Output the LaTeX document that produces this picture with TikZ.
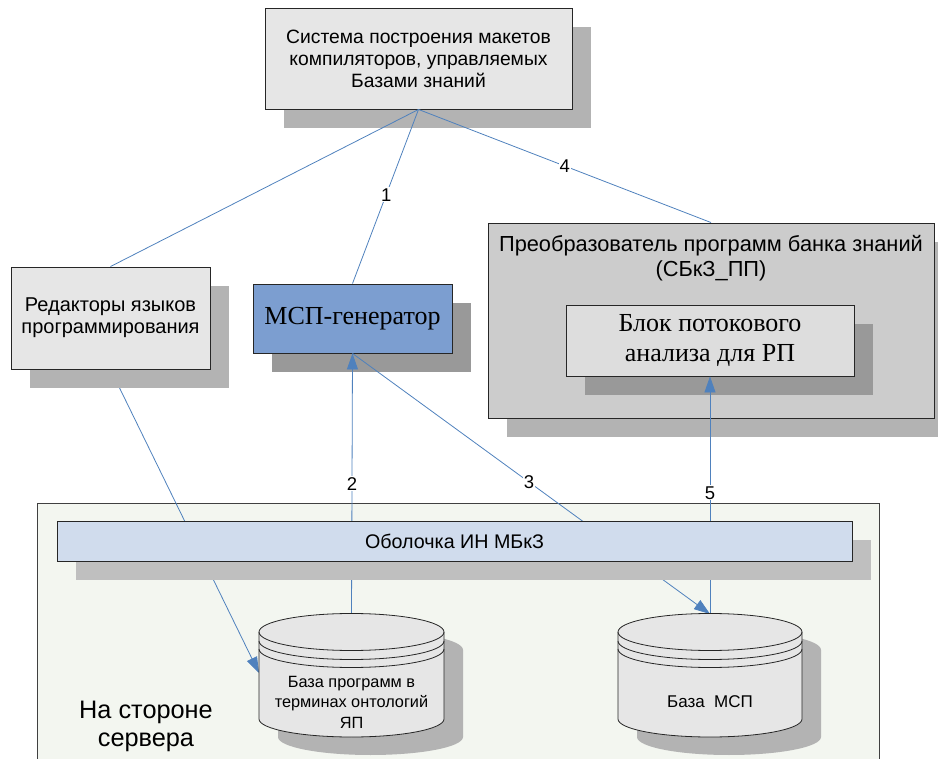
\documentclass[tikz,border=0pt]{standalone}
\usepackage{fontspec}
\setmainfont{Liberation Sans}
\newfontfamily\romanfont{Liberation Serif}
\usetikzlibrary{arrows.meta,shadows}

\definecolor{wire}{HTML}{4F81BD}
\definecolor{panel}{HTML}{E6E6E6}
\definecolor{panelshadow}{HTML}{B3B3B3}
\definecolor{genfill}{HTML}{7C9ED0}
\definecolor{darkshadow}{HTML}{999999}
\definecolor{convfill}{HTML}{CCCCCC}
\definecolor{innerfill}{HTML}{DDDDDD}
\definecolor{shellfill}{HTML}{D0DCED}
\definecolor{shellshadow}{HTML}{BFBFBF}
\definecolor{serverfill}{HTML}{F3F6F0}

\pgfdeclarelayer{back}
\pgfdeclarelayer{wires}
\pgfsetlayers{back,wires,main}

% database cylinder: #1 = centre x, #2 = half width
\newcommand\drawdb[2]{%
  \begin{scope}[shift={(#1,0)}]
    \fill[panelshadow] (-#2+19,650) -- (-#2+19,737)
      arc[start angle=180,end angle=360,x radius=#2pt,y radius=18pt]
      -- (#2+19,650)
      arc[start angle=0,end angle=180,x radius=#2pt,y radius=18.5pt] -- cycle;
    \filldraw[fill=panel,draw=black!85,line width=0.8pt] (-#2,632) -- (-#2,719)
      arc[start angle=180,end angle=360,x radius=#2pt,y radius=18pt]
      -- (#2,632)
      arc[start angle=0,end angle=180,x radius=#2pt,y radius=18.5pt] -- cycle;
    \draw[black!85,line width=0.8pt] (-#2,632)
      arc[start angle=180,end angle=360,x radius=#2pt,y radius=18.5pt];
    \draw[black!85,line width=0.8pt] (-#2,641)
      arc[start angle=180,end angle=360,x radius=#2pt,y radius=18.5pt];
    \draw[black!85,line width=0.8pt] (-#2,649)
      arc[start angle=180,end angle=360,x radius=#2pt,y radius=18.5pt];
  \end{scope}}

\begin{document}
\begin{tikzpicture}[x=1pt,y=-1pt,
  box/.style={draw=black!85,line width=0.9pt,inner sep=0pt,align=center},
  castshadow/.style={drop shadow={shadow xshift=19pt,shadow yshift=-19pt,fill=#1,opacity=1}},
  sanstext/.style={font=\fontsize{19.3}{22}\selectfont},
  serifbig/.style={font=\romanfont\fontsize{26}{30}\selectfont},
  link/.style={draw=wire,line width=0.8pt},
  tip/.style={-{Triangle[length=16pt,width=11pt]}},
  num/.style={fill=white,inner sep=1pt,font=\fontsize{18.5}{18.5}\selectfont}]

\useasboundingbox (0,0) rectangle (938,759);

% server-side area
\begin{pgfonlayer}{back}
  \clip (0,0) rectangle (938,759);
  \draw[fill=serverfill,draw=black!75,line width=0.8pt] (37,503) rectangle (879,775);
\end{pgfonlayer}

% upper blocks
\node[box,sanstext,fill=panel,castshadow=panelshadow,
      minimum width=307pt,minimum height=101pt] (sys) at (418.5,58.5)
  {Система построения макетов\\компиляторов, управляемых\\Базами знаний};

\node[box,font=\fontsize{20}{22}\selectfont,fill=panel,castshadow=panelshadow,
      minimum width=199pt,minimum height=102pt] (ed) at (110.5,318)
  {\raisebox{-3pt}{\parbox{199pt}{\centering Редакторы языков\\программирования}}};

\node[box,serifbig,fill=genfill,castshadow=darkshadow,
      minimum width=199pt,minimum height=69pt] (gen) at (352.5,318.5)
  {МСП-генератор};

\node[box,fill=convfill,castshadow=panelshadow,
      minimum width=446pt,minimum height=195pt] (conv) at (711,320.5) {};
\node[font=\fontsize{21.8}{25}\selectfont,align=center,inner sep=0pt,anchor=north] (convtitle)
  at ([yshift=-13pt]conv.north)
  {Преобразователь программ банка знаний\\(СБкЗ\_ПП)};

\node[box,serifbig,fill=innerfill,castshadow=darkshadow,
      minimum width=288pt,minimum height=71pt] (flow) at (710,340.5)
  {Блок потокового\\анализа для РП};

% reference points on the databases
\coordinate (db1top) at (351.5,614);
\coordinate (db1side) at (259,673);
\coordinate (db2top) at (710,614);

% connectors
\begin{pgfonlayer}{wires}
  \draw[link,tip] (ed.south) -- (db1side);
\end{pgfonlayer}
\draw[link] (sys.south) -- (ed.north);
\draw[link] (sys.south) -- node[num,pos=0.49]{1} (gen.north);
\draw[link] (sys.south) -- node[num,pos=0.5]{4} (conv.north);
\draw[link,tip] (db1top) -- node[num,pos=0.5]{2} (gen.south);
\draw[link,tip] (gen.south) -- node[num,pos=0.494]{3} (db2top);
\draw[link,tip] (db2top) -- node[num,pos=0.51]{5} (flow.south);

% shell bar
\node[box,font=\fontsize{19.7}{22}\selectfont,fill=shellfill,castshadow=shellshadow,
      minimum width=795pt,minimum height=40pt] (shell) at (454.5,541)
  {Оболочка ИН МБкЗ};

% databases
\drawdb{351.5}{92.5}
\drawdb{710}{92}
\node[align=center,inner sep=0pt,font=\fontsize{16.3}{20.5}\selectfont] (db1) at (351.5,702)
  {База программ в\\терминах онтологий\\ЯП};
\node[inner sep=0pt,font=\fontsize{17}{20}\selectfont] (db2) at (710,702) {База\ \ МСП};

\node[align=center,inner sep=0pt,font=\fontsize{25.3}{28}\selectfont] (server) at (146,726)
  {На стороне\\сервера};

\end{tikzpicture}
\end{document}
